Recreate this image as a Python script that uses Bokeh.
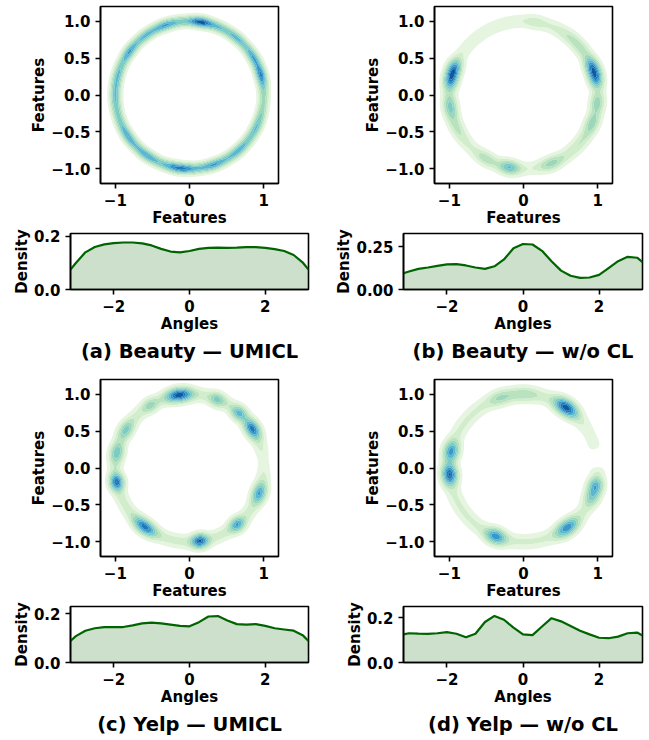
import numpy as np
from bokeh.plotting import figure
from bokeh.layouts import column, row
from bokeh.models import FixedTicker, Title
from bokeh.embed import file_html
from bokeh.resources import INLINE

FONT = "DejaVu Sans"

# ---------------- data: angular density curves ----------------
angles = [-3.1416, -3.0, -2.75, -2.5, -2.25, -2.0, -1.75, -1.5, -1.25, -1.0, -0.75, -0.5, -0.25,
          0.0, 0.25, 0.5, 0.75, 1.0, 1.25, 1.5, 1.75, 2.0, 2.25, 2.5, 2.75, 3.0, 3.1416]

density_a = [0.075, 0.100, 0.140, 0.160, 0.170, 0.175, 0.177, 0.177, 0.174, 0.166, 0.153, 0.143, 0.140,
             0.145, 0.153, 0.157, 0.158, 0.157, 0.158, 0.160, 0.160, 0.157, 0.152, 0.145, 0.130, 0.100, 0.075]
density_b = [0.095, 0.105, 0.120, 0.128, 0.138, 0.146, 0.148, 0.140, 0.128, 0.120, 0.135, 0.175, 0.240,
             0.265, 0.262, 0.225, 0.165, 0.110, 0.080, 0.068, 0.070, 0.085, 0.125, 0.165, 0.190, 0.185, 0.160]
density_c = [0.088, 0.108, 0.130, 0.140, 0.145, 0.145, 0.145, 0.152, 0.160, 0.163, 0.160, 0.155, 0.150,
             0.148, 0.165, 0.188, 0.190, 0.172, 0.157, 0.155, 0.157, 0.150, 0.140, 0.135, 0.130, 0.110, 0.088]
density_d = [0.125, 0.130, 0.128, 0.127, 0.130, 0.135, 0.128, 0.112, 0.128, 0.180, 0.207, 0.190, 0.155,
             0.125, 0.122, 0.160, 0.197, 0.183, 0.162, 0.141, 0.125, 0.110, 0.108, 0.115, 0.130, 0.133, 0.120]

density_ymax = [0.211, 0.326, 0.229, 0.249]
density_yticks = [[0.0, 0.2], [0.0, 0.25], [0.0, 0.2], [0.0, 0.2]]
density_ytick_labels = [["0.0", "0.2"], ["0.00", "0.25"], ["0.0", "0.2"], ["0.0", "0.2"]]
density_xticks = [-2, 0, 2]
density_xtick_labels = ["\u22122", "0", "2"]

ring_xticks = [-1, 0, 1]
ring_xtick_labels = ["\u22121", "0", "1"]
ring_yticks = [-1.0, -0.5, 0.0, 0.5, 1.0]
ring_ytick_labels = ["\u22121.0", "\u22120.5", "0.0", "0.5", "1.0"]

captions = ["(a) Beauty \u2014 UMICL", "(b) Beauty \u2014 w/o CL",
            "(c) Yelp \u2014 UMICL", "(d) Yelp \u2014 w/o CL"]

# ---------------- data: feature clusters on the unit circle ----------------
# angle (deg), relative weight, angular spread (deg)
ring_a_angle = [81, 109, 126, 144, 165, 180, 214, 235, 263, 289, 311, 334, 16, 30, 51, 68, 355]
ring_a_weight = [0.60, 0.22, 0.11, 0.22, 0.09, 0.08, 0.19, 0.19, 0.42, 0.22, 0.15, 0.08, 0.38, 0.22, 0.11, 0.08, -0.12]
ring_a_spread = [5, 6, 5, 5, 6, 6, 6, 6, 7, 6, 6, 6, 5, 5, 5, 5, 8]
ring_a_base, ring_a_width = 0.34, 0.042

ring_b_angle = [160, 168, 189, 205, 14, 22, 354, 338, 41, 259, 240, 292, 81, 45, 320, 200]
ring_b_weight = [0.80, 0.70, 0.30, 0.06, 0.75, 0.70, 0.25, 0.22, 0.08, 0.45, 0.15, 0.22, 0.06, 0.06, 0.08, 0.06]
ring_b_spread = [5, 5, 6, 8, 5, 5, 5, 6, 10, 5, 6, 6, 5, 15, 15, 15]
ring_b_base, ring_b_width = 0.06, 0.055

ring_c_angle = [98, 68, 48, 32, 122, 149, 168, 191, 233, 278, 310, 340, 5]
ring_c_weight = [1.00, 0.30, 0.45, 0.80, 0.20, 0.30, 0.35, 0.85, 0.80, 0.90, 0.55, 0.55, -0.06]
ring_c_spread = [6, 4, 4, 5, 4, 5, 5, 4, 6, 4, 4, 5, 8]
ring_c_base, ring_c_width = 0.10, 0.055

ring_d_angle = [55, 90, 108, 167, 185, 248, 306, 338, 346, 7, 25]
ring_d_weight = [0.90, 0.12, 0.15, 0.55, 0.80, 0.60, 0.60, 0.30, 0.40, -0.12, -0.035]
ring_d_spread = [6, 8, 6, 5, 5, 5, 6, 5, 4, 5, 10]
ring_d_base, ring_d_width = 0.07, 0.060

level_fracs = [0.015, 0.06, 0.12, 0.20, 0.30, 0.42, 0.56, 0.72, 0.86, 1.001]
RING_COLORS = ["#e5f5e0", "#d2edcb", "#b9e3be", "#9dd7b9", "#7bccc4",
               "#59b7d0", "#3998c7", "#1c7ab6", "#0a5ba2"]


def ring_field(base, ang, wts, spr, width, n=361):
    g = np.linspace(-1.2, 1.2, n)
    X, Y = np.meshgrid(g, g)
    R = np.hypot(X, Y)
    T = np.degrees(np.arctan2(Y, X))
    A = np.full_like(R, base)
    for a, w, s in zip(ang, wts, spr):
        d = (T - a + 180.0) % 360.0 - 180.0
        A += w * np.exp(-d ** 2 / (2.0 * s ** 2))
    A = np.clip(A, 0, None)
    Z = A * np.exp(-(R - 1.0) ** 2 / (2.0 * width ** 2))
    return g, Z


def style(p):
    p.grid.visible = False
    p.outline_line_color = "black"
    p.outline_line_width = 1.6
    p.outline_line_alpha = 1.0
    p.background_fill_color = "white"
    p.border_fill_color = "white"
    for ax in p.axis:
        ax.axis_line_width = 1.6
        ax.axis_line_color = "black"
        ax.major_tick_line_width = 1.6
        ax.major_tick_line_color = "black"
        ax.major_tick_out = 5
        ax.major_tick_in = 0
        ax.minor_tick_line_color = None
        ax.major_label_text_font = FONT
        ax.major_label_text_font_size = "15px"
        ax.major_label_text_font_style = "bold"
        ax.major_label_text_color = "black"
        ax.major_label_standoff = 5
        ax.axis_label_text_font = FONT
        ax.axis_label_text_font_size = "15px"
        ax.axis_label_text_font_style = "bold"
        ax.axis_label_text_color = "black"
        ax.axis_label_standoff = 0


def ring_plot(base, ang, wts, spr, width, left, right, top, bottom):
    p = figure(width=left + 178 + right, height=top + 177 + bottom,
               x_range=(-1.2, 1.2), y_range=(-1.2, 1.2),
               output_backend="svg", toolbar_location=None, sizing_mode="fixed",
               min_border_left=left, min_border_right=right,
               min_border_top=top, min_border_bottom=bottom)
    g, Z = ring_field(base, ang, wts, spr, width)
    levels = list(Z.max() * np.array(level_fracs))
    p.contour(x=g, y=g, z=Z, levels=levels, fill_color=RING_COLORS, line_color=None)
    p.xaxis.ticker = FixedTicker(ticks=ring_xticks)
    p.xaxis.major_label_overrides = dict(zip(ring_xticks, ring_xtick_labels))
    p.yaxis.ticker = FixedTicker(ticks=ring_yticks)
    p.yaxis.major_label_overrides = dict(zip(ring_yticks, ring_ytick_labels))
    p.xaxis.axis_label = "Features"
    p.yaxis.axis_label = "Features"
    style(p)
    return p


def density_plot(dens, ymax, yt, ytl, cap, left, right, frame_w, top, bottom):
    p = figure(width=left + frame_w + right, height=top + 56 + bottom,
               x_range=(-3.1416, 3.1416), y_range=(0, ymax),
               output_backend="svg", toolbar_location=None, sizing_mode="fixed",
               min_border_left=left, min_border_right=right,
               min_border_top=top, min_border_bottom=bottom)
    p.varea(x=angles, y1=[0.0] * len(angles), y2=dens, fill_color="darkgreen", fill_alpha=0.2)
    p.line(x=angles, y=dens, line_color="darkgreen", line_width=2.2)
    p.xaxis.ticker = FixedTicker(ticks=density_xticks)
    p.xaxis.major_label_overrides = dict(zip(density_xticks, density_xtick_labels))
    p.yaxis.ticker = FixedTicker(ticks=yt)
    p.yaxis.major_label_overrides = dict(zip(yt, ytl))
    p.xaxis.axis_label = "Angles"
    p.yaxis.axis_label = "Density"
    style(p)
    t = Title(text=cap, align="center", text_font=FONT, text_font_size="19.5px",
              text_font_style="bold", text_color="black", standoff=4)
    p.add_layout(t, "below")
    return p


ra = ring_plot(ring_a_base, ring_a_angle, ring_a_weight, ring_a_spread, ring_a_width, 100, 52, 6, 46)
rb = ring_plot(ring_b_base, ring_b_angle, ring_b_weight, ring_b_spread, ring_b_width, 104, 36, 6, 46)
da = density_plot(density_a, density_ymax[0], density_yticks[0], density_ytick_labels[0], captions[0], 70, 22, 238, 4, 76)
db = density_plot(density_b, density_ymax[1], density_yticks[1], density_ytick_labels[1], captions[1], 73, 6, 239, 4, 76)
rc = ring_plot(ring_c_base, ring_c_angle, ring_c_weight, ring_c_spread, ring_c_width, 100, 52, 14, 46)
rd = ring_plot(ring_d_base, ring_d_angle, ring_d_weight, ring_d_spread, ring_d_width, 104, 36, 14, 46)
dc = density_plot(density_c, density_ymax[2], density_yticks[2], density_ytick_labels[2], captions[2], 70, 22, 238, 4, 76)
dd = density_plot(density_d, density_ymax[3], density_yticks[3], density_ytick_labels[3], captions[3], 73, 6, 239, 4, 76)

# each plot wrapped on its own, so that frames are not aligned across plots
cells = [row(p) for p in (ra, da, rb, db, rc, dc, rd, dd)]
layout = column(row(column(cells[0], cells[1]), column(cells[2], cells[3])),
                row(column(cells[4], cells[5]), column(cells[6], cells[7])))

with open("out.html", "w") as f:
    f.write(file_html(layout, INLINE))
